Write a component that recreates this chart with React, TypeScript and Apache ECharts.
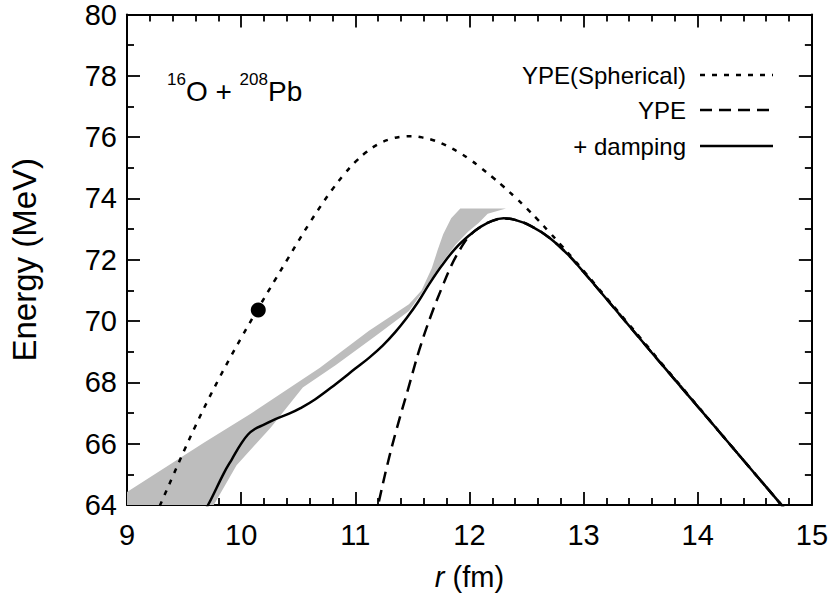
import React, { useEffect, useRef } from "react";
import * as echarts from "echarts";

// YPE (Spherical) — dotted
const sphR = [9.2, 9.3, 9.4, 9.5, 9.6, 9.7, 9.8, 9.9, 10.0, 10.15, 10.3, 10.4, 10.5, 10.6, 10.7, 10.8, 10.9, 11.0, 11.1, 11.2, 11.3, 11.4, 11.5, 11.6, 11.7, 11.8, 11.9, 12.0, 12.1, 12.2, 12.3, 12.4, 12.5, 12.6, 12.7, 12.8, 12.9, 13.0, 13.1, 13.2, 13.3, 13.4, 13.5, 13.7, 13.95, 14.3, 14.72, 14.8];
const sphE = [63.25, 64.08, 64.93, 65.77, 66.58, 67.35, 68.08, 68.78, 69.45, 70.42, 71.36, 71.98, 72.6, 73.2, 73.77, 74.3, 74.78, 75.19, 75.52, 75.77, 75.93, 76.01, 76.03, 75.98, 75.88, 75.72, 75.52, 75.28, 75.0, 74.7, 74.38, 74.04, 73.68, 73.3, 72.9, 72.49, 72.07, 71.64, 71.2, 70.76, 70.32, 69.88, 69.44, 68.55, 67.45, 65.9, 64.06, 63.7];

// YPE — dashed
const ypeR = [11.17, 11.2, 11.28, 11.36, 11.46, 11.56, 11.66, 11.76, 11.84, 11.92, 12.0, 12.1, 12.2, 12.3, 12.4, 12.54, 12.7, 12.86, 13.0, 13.26, 13.5, 13.7, 13.95, 14.3, 14.72, 14.8];
const ypeE = [63.5, 64.0, 65.3, 66.45, 67.75, 69.05, 70.15, 71.1, 71.8, 72.35, 72.78, 73.08, 73.27, 73.35, 73.3, 73.1, 72.72, 72.18, 71.6, 70.46, 69.4, 68.52, 67.43, 65.9, 64.06, 63.7];

// + damping — solid
const dampR = [9.6, 9.71, 9.85, 9.92, 10.0, 10.06, 10.12, 10.2, 10.3, 10.42, 10.52, 10.65, 10.83, 11.0, 11.12, 11.24, 11.35, 11.45, 11.55, 11.65, 11.76, 11.88, 12.0, 12.1, 12.2, 12.3, 12.4, 12.54, 12.7, 12.86, 13.0, 13.26, 13.5, 13.7, 13.95, 14.3, 14.72, 14.8];
const dampE = [63.3, 64.0, 65.05, 65.5, 66.0, 66.3, 66.48, 66.62, 66.8, 66.98, 67.16, 67.45, 67.95, 68.45, 68.8, 69.2, 69.64, 70.1, 70.62, 71.22, 71.82, 72.38, 72.8, 73.08, 73.27, 73.35, 73.3, 73.1, 72.72, 72.18, 71.6, 70.46, 69.4, 68.52, 67.43, 65.9, 64.06, 63.7];

// grey band (outline: upper edge, then lower edge back)
const bandR = [9.0, 9.0, 9.68, 10.08, 10.69, 11.12, 11.47, 11.58, 11.67, 11.72, 11.77, 11.84, 11.92, 12.32, 12.16, 12.08, 11.99, 11.88, 11.76, 11.65, 11.58, 11.47, 11.18, 10.83, 10.54, 10.26, 9.96, 9.76];
const bandE = [64.0, 64.42, 66.05, 66.97, 68.48, 69.68, 70.55, 71.0, 71.72, 72.3, 72.83, 73.35, 73.67, 73.67, 73.5, 73.2, 72.92, 72.5, 71.9, 71.3, 70.9, 70.33, 69.52, 68.57, 67.83, 66.53, 65.3, 64.0];

// single point
const pointR = [10.15];
const pointE = [70.36];

const legendNames = ["YPE(Spherical)", "YPE", "+ damping"];

const zip = (a: number[], b: number[]) => a.map((v, i) => [v, b[i]]);

const FONT = "'Liberation Sans', Arial, Helvetica, sans-serif";

export default function App() {
  const ref = useRef<HTMLDivElement>(null);
  useEffect(() => {
    document.body.style.margin = "0";
    if (!ref.current) return;
    const chart = echarts.init(ref.current, null, { renderer: "svg" });
    const gridL = 122, gridR = 17, gridT = 12, gridB = 93;
    const axisLine = { show: true, onZero: false, lineStyle: { color: "#000", width: 2 } };
    const xCommon = {
      type: "value" as const,
      min: 9,
      max: 15,
      interval: 1,
      axisLine,
      axisTick: { show: true, inside: true, length: 13, lineStyle: { color: "#000", width: 1.8 } },
      minorTick: { show: true, splitNumber: 5, length: 7, lineStyle: { color: "#000", width: 1.8 } },
      splitLine: { show: false },
      minorSplitLine: { show: false },
    };
    const yCommon = {
      type: "value" as const,
      min: 64,
      max: 80,
      interval: 2,
      axisLine,
      axisTick: { show: true, inside: true, length: 13, lineStyle: { color: "#000", width: 1.8 } },
      minorTick: { show: true, splitNumber: 2, length: 7, lineStyle: { color: "#000", width: 1.8 } },
      splitLine: { show: false },
      minorSplitLine: { show: false },
    };
    const legendRows = [75, 110, 146];
    const legendStyles: any[] = [[5, 7], [12, 7], "solid"];
    const graphics: any[] = [];
    legendNames.forEach((n, i) => {
      graphics.push({
        type: "text",
        x: 686,
        y: legendRows[i],
        style: { text: n, fontSize: 24, fontFamily: FONT, fill: "#000", align: "right", verticalAlign: "middle" },
      });
      graphics.push({
        type: "line",
        shape: { x1: 700, y1: legendRows[i], x2: 773, y2: legendRows[i] },
        style: { stroke: "#000", lineWidth: 2.5, lineDash: legendStyles[i] === "solid" ? null : legendStyles[i] },
      });
    });
    graphics.push({
      type: "text",
      x: 167,
      y: 71,
      style: {
        text: "{s|16}{b|O + }{s|208}{b|Pb}",
        fontFamily: FONT,
        fill: "#000",
        rich: {
          s: { fontSize: 17, fontFamily: FONT, verticalAlign: "top", lineHeight: 34 },
          b: { fontSize: 28, fontFamily: FONT, verticalAlign: "bottom", lineHeight: 34 },
        },
      },
    });

    chart.setOption({
      animation: false,
      backgroundColor: "#fff",
      grid: { left: gridL, right: gridR, top: gridT, bottom: gridB, containLabel: false },
      xAxis: [
        {
          ...xCommon,
          position: "bottom",
          axisLabel: { fontSize: 29, fontFamily: FONT, color: "#000", margin: 15 },
          name: "{i|r} (fm)",
          nameLocation: "middle",
          nameGap: 57,
          nameTextStyle: {
            fontSize: 29,
            fontFamily: FONT,
            color: "#000",
            rich: { i: { fontSize: 29, fontStyle: "italic", fontFamily: FONT, color: "#000" } },
          },
        },
        { ...xCommon, position: "top", axisLabel: { show: false } },
      ],
      yAxis: [
        {
          ...yCommon,
          position: "left",
          axisLabel: { fontSize: 29, fontFamily: FONT, color: "#000", margin: 10 },
          name: "Energy (MeV)",
          nameLocation: "middle",
          nameGap: 86,
          nameTextStyle: { fontSize: 33, fontFamily: FONT, color: "#000" },
        },
        { ...yCommon, position: "right", axisLabel: { show: false } },
      ],
      graphic: graphics,
      series: [
        {
          type: "custom",
          name: "band",
          data: [[9, 64]],
          silent: true,
          renderItem: (_p: any, api: any) => ({
            type: "polygon",
            shape: { points: zip(bandR, bandE).map((pt) => api.coord(pt)) },
            style: { fill: "#bdbdbd", stroke: null },
          }),
          z: 1,
        },
        {
          type: "line",
          name: legendNames[0],
          data: zip(sphR, sphE),
          showSymbol: false,
          smooth: 0.4,
          clip: true,
          lineStyle: { color: "#000", width: 2.5, type: [5, 7] },
          z: 3,
        },
        {
          type: "line",
          name: legendNames[1],
          data: zip(ypeR, ypeE),
          showSymbol: false,
          smooth: 0.4,
          clip: true,
          lineStyle: { color: "#000", width: 2.5, type: [12, 7] },
          z: 3,
        },
        {
          type: "line",
          name: legendNames[2],
          data: zip(dampR, dampE),
          showSymbol: false,
          smooth: 0.4,
          clip: true,
          lineStyle: { color: "#000", width: 2.5, type: "solid" },
          z: 4,
        },
        {
          type: "scatter",
          data: zip(pointR, pointE),
          symbol: "circle",
          symbolSize: 15,
          itemStyle: { color: "#000", opacity: 1 },
          z: 5,
        },
      ],
    });
    return () => chart.dispose();
  }, []);
  return <div ref={ref} style={{ width: 831, height: 598 }} />;
}
